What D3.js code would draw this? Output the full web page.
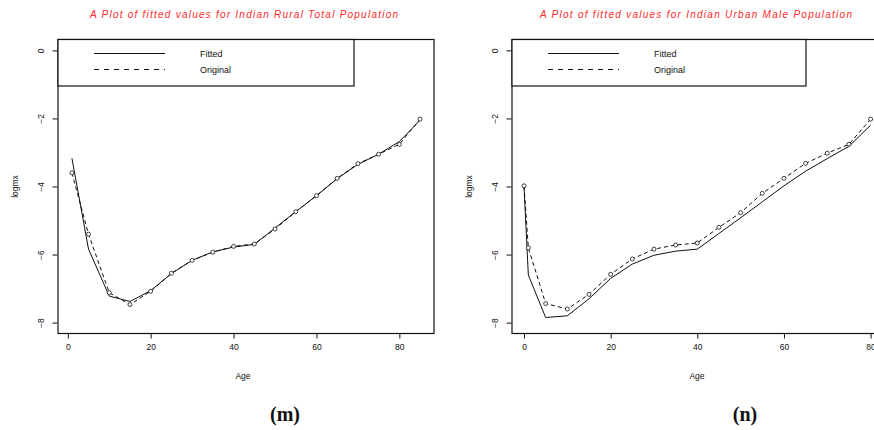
<!DOCTYPE html>
<html>
<head>
<meta charset="utf-8">
<script src="https://cdn.jsdelivr.net/npm/d3@7"></script>
<style>
  html, body { margin: 0; padding: 0; background: #fff; }
  svg { display: block; }
  text { font-family: "Liberation Sans", Arial, sans-serif; fill: #111; }
</style>
</head>
<body>
<svg id="chart" width="874" height="430"></svg>
<script>
// Log death rates (log mx) by age, fitted vs original
const ruralAges = [1, 5, 10, 15, 20, 25, 30, 35, 40, 45, 50, 55, 60, 65, 70, 75, 80, 85];
const ruralFitted = [-3.17, -5.84, -7.22, -7.38, -7.06, -6.56, -6.17, -5.92, -5.78, -5.70, -5.22, -4.74, -4.27, -3.77, -3.35, -3.05, -2.68, -2.05];
const ruralOriginal = [-3.60, -5.40, -7.12, -7.47, -7.08, -6.55, -6.17, -5.93, -5.76, -5.69, -5.25, -4.74, -4.27, -3.76, -3.33, -3.05, -2.76, -2.02];

const urbanAges = [0, 1, 5, 10, 15, 20, 25, 30, 35, 40, 45, 50, 55, 60, 65, 70, 75, 80];
const urbanFitted = [-4.00, -6.60, -7.85, -7.80, -7.30, -6.70, -6.28, -6.02, -5.90, -5.84, -5.38, -4.92, -4.45, -3.98, -3.55, -3.18, -2.82, -2.20];
const urbanOriginal = [-3.98, -5.80, -7.44, -7.60, -7.17, -6.58, -6.13, -5.84, -5.72, -5.66, -5.20, -4.77, -4.20, -3.76, -3.32, -3.02, -2.76, -2.02];

const xTicks = [0, 20, 40, 60, 80];
const yTicks = [0, -2, -4, -6, -8];
const legendLabels = ["Fitted", "Original"];

const panels = [
  {
    title: "A Plot of fitted values for Indian Rural Total Population",
    ages: ruralAges, fitted: ruralFitted, original: ruralOriginal,
    xDomain: [-2.36, 88.36], left: 58, right: 434, ageX: 243,
    legendRight: 354, titleX: 244, titleW: 308, caption: "(m)", captionX: 285
  },
  {
    title: "A Plot of fitted values for Indian Urban Male Population",
    ages: urbanAges, fitted: urbanFitted, original: urbanOriginal,
    xDomain: [-2.77, 88.4], left: 512, right: 907, ageX: 697,
    legendRight: 806, titleX: 696, titleW: 312, caption: "(n)", captionX: 745
  }
];

const svg = d3.select("#chart");
const plotTop = 39.5, plotBottom = 333.5;
const y = d3.scaleLinear().domain([-8.32, 0.32]).range([plotBottom, plotTop]);

panels.forEach(p => {
  const g = svg.append("g");
  const x = d3.scaleLinear().domain(p.xDomain).range([p.left, p.right]);

  // title
  g.append("text")
    .attr("x", p.titleX).attr("y", 18)
    .attr("text-anchor", "middle")
    .attr("textLength", p.titleW).attr("lengthAdjust", "spacing")
    .style("font-size", "10px").style("font-style", "italic")
    .style("fill", "#ff2a2a")
    .text(p.title);

  // x axis
  const xAxis = d3.axisBottom(x).tickValues(xTicks).tickSize(5).tickPadding(5).tickFormat(d3.format("d"));
  const gx = g.append("g").attr("transform", `translate(0,${plotBottom})`).call(xAxis);
  gx.select(".domain").remove();
  gx.selectAll(".tick line").attr("stroke", "#111");
  gx.selectAll(".tick text").style("font-size", "8.5px").attr("fill", "#111");

  // y axis with rotated labels
  const yAxis = d3.axisLeft(y).tickValues(yTicks).tickSize(5).tickFormat(d3.format("d"));
  const gy = g.append("g").attr("transform", `translate(${p.left - 0.5},0)`).call(yAxis);
  gy.select(".domain").remove();
  gy.selectAll(".tick line").attr("stroke", "#111");
  gy.selectAll(".tick text")
    .attr("x", null)
    .attr("text-anchor", "middle")
    .attr("transform", "translate(-16,0) rotate(-90)")
    .attr("dy", "0.32em")
    .style("font-size", "8.5px").attr("fill", "#111");

  // axis titles
  g.append("text")
    .attr("x", p.ageX).attr("y", 379).attr("text-anchor", "middle")
    .style("font-size", "8.5px").text("Age");
  g.append("text")
    .attr("transform", `translate(${p.left - 40},${(plotTop + plotBottom) / 2}) rotate(-90)`)
    .attr("text-anchor", "middle")
    .style("font-size", "8.5px").text("logmx");

  // plot box
  g.append("rect")
    .attr("x", p.left).attr("y", plotTop)
    .attr("width", p.right - p.left).attr("height", plotBottom - plotTop)
    .attr("fill", "none").attr("stroke", "#111").attr("stroke-width", 1.2);

  // series
  const line = d3.line().x(d => x(d[0])).y(d => y(d[1]));
  const fittedPts = p.ages.map((a, i) => [a, p.fitted[i]]);
  const originalPts = p.ages.map((a, i) => [a, p.original[i]]);

  g.append("path").datum(fittedPts).attr("d", line)
    .attr("fill", "none").attr("stroke", "#111").attr("stroke-width", 1);
  g.append("path").datum(originalPts).attr("d", line)
    .attr("fill", "none").attr("stroke", "#111").attr("stroke-width", 1)
    .attr("stroke-dasharray", "4,3");
  g.selectAll("circle.pt").data(originalPts).enter().append("circle")
    .attr("class", "pt")
    .attr("cx", d => x(d[0])).attr("cy", d => y(d[1])).attr("r", 2)
    .attr("fill", "#fff").attr("stroke", "#111").attr("stroke-width", 0.8);

  // legend
  const lg = g.append("g");
  lg.append("rect")
    .attr("x", p.left).attr("y", plotTop)
    .attr("width", p.legendRight - p.left).attr("height", 86 - plotTop)
    .attr("fill", "#fff").attr("stroke", "#111").attr("stroke-width", 1.2);
  legendLabels.forEach((lab, i) => {
    const ly = 53.5 + i * 16;
    lg.append("line")
      .attr("x1", p.left + 36).attr("x2", p.left + 107)
      .attr("y1", ly).attr("y2", ly)
      .attr("stroke", "#111").attr("stroke-width", 1)
      .attr("stroke-dasharray", i === 1 ? "5,5" : null);
    lg.append("text")
      .attr("x", p.left + 142).attr("y", ly).attr("dy", "0.35em")
      .style("font-size", "9px").text(lab);
  });

  // caption
  g.append("text")
    .attr("x", p.captionX).attr("y", 421).attr("text-anchor", "middle")
    .style("font-family", "'Liberation Serif', 'Times New Roman', serif")
    .style("font-weight", "bold").style("font-size", "20px")
    .text(p.caption);
});
</script>
</body>
</html>
